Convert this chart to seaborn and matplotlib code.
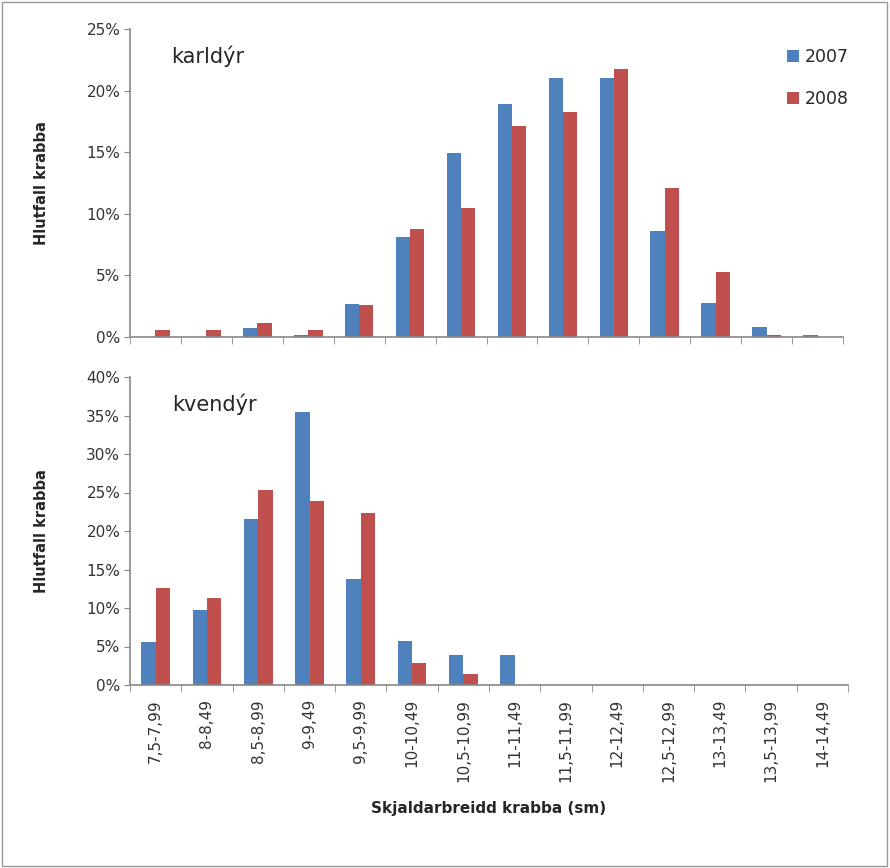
import matplotlib
matplotlib.use("Agg")
import matplotlib.pyplot as plt
import seaborn as sns
import pandas as pd
from matplotlib.ticker import FuncFormatter, FixedLocator, MultipleLocator
from matplotlib.patches import Rectangle

categories = ["7,5-7,99", "8-8,49", "8,5-8,99", "9-9,49", "9,5-9,99", "10-10,49",
              "10,5-10,99", "11-11,49", "11,5-11,99", "12-12,49", "12,5-12,99",
              "13-13,49", "13,5-13,99", "14-14,49"]
years = ["2007", "2008"]

karl_2007 = [0.0, 0.0, 0.7, 0.15, 2.7, 8.1, 14.9, 18.9, 21.0, 21.0, 8.6, 2.75, 0.8, 0.15]
karl_2008 = [0.6, 0.6, 1.1, 0.6, 2.6, 8.8, 10.5, 17.1, 18.3, 21.75, 12.1, 5.3, 0.15, 0.0]

kven_2007 = [5.6, 9.7, 21.5, 35.4, 13.8, 5.7, 3.9, 3.9, 0, 0, 0, 0, 0, 0]
kven_2008 = [12.6, 11.3, 25.3, 23.9, 22.4, 2.8, 1.4, 0, 0, 0, 0, 0, 0, 0]

palette = {"2007": "#4F81BD", "2008": "#C0504D"}


def long_df(v07, v08):
    rows = []
    for c, a, b in zip(categories, v07, v08):
        rows.append({"flokkur": c, "ar": "2007", "hlutfall": a})
        rows.append({"flokkur": c, "ar": "2008", "hlutfall": b})
    return pd.DataFrame(rows)


sns.set_style("white")
plt.rcParams["font.family"] = ["DejaVu Sans"]

fig = plt.figure(figsize=(8.9, 8.68), dpi=100)
ax1 = fig.add_axes([130 / 890, 1 - 337 / 868, 713 / 890, 308 / 868])
ax2 = fig.add_axes([130 / 890, 1 - 685 / 868, 718 / 890, 308 / 868])

sns.barplot(data=long_df(karl_2007, karl_2008), x="flokkur", y="hlutfall", hue="ar",
            palette=palette, width=0.56, ax=ax1, saturation=1, order=categories,
            linewidth=0)
sns.barplot(data=long_df(kven_2007, kven_2008), x="flokkur", y="hlutfall", hue="ar",
            palette=palette, width=0.56, ax=ax2, saturation=1, order=categories,
            linewidth=0)

pct = FuncFormatter(lambda v, p: f"{v:.0f}%")
for ax, top, step in [(ax1, 25, 5), (ax2, 40, 5)]:
    ax.set_xlim(-0.5, len(categories) - 0.5)
    ax.set_ylim(0, top)
    ax.yaxis.set_major_locator(MultipleLocator(step))
    ax.yaxis.set_major_formatter(pct)
    ax.tick_params(axis="y", labelsize=11, length=4, direction="out", color="#888888",
                   left=True, pad=3, labelcolor="#333333")
    ax.tick_params(axis="x", which="major", length=0)
    ax.xaxis.set_minor_locator(FixedLocator([i - 0.5 for i in range(len(categories) + 1)]))
    ax.tick_params(axis="x", which="minor", length=5, direction="out", color="#888888",
                   bottom=True)
    for s in ["top", "right"]:
        ax.spines[s].set_visible(False)
    for s in ["left", "bottom"]:
        ax.spines[s].set_color("#888888")
        ax.spines[s].set_linewidth(1.2)
    ax.set_ylabel("Hlutfall krabba", fontsize=10.5, fontweight="bold", labelpad=27)

ax1.set_xlabel("")
ax1.set_xticklabels([])
ax1.legend(loc="upper right", bbox_to_anchor=(1.03, 0.99), frameon=False, fontsize=12.5,
           handlelength=0.7, handleheight=0.7, labelspacing=1.4, handletextpad=0.35)
ax2.legend_.remove()

ax2.set_xticks(range(len(categories)))
ax2.set_xticklabels(categories, rotation=90, fontsize=11, color="#333333")
ax2.tick_params(axis="x", which="major", pad=10)
ax2.set_xlabel("Skjaldarbreidd krabba (sm)", fontsize=11, fontweight="bold", labelpad=14)

ax1.text(0.058, 0.91, "karldýr", transform=ax1.transAxes, fontsize=15, va="center")
ax2.text(0.058, 0.91, "kvendýr", transform=ax2.transAxes, fontsize=15, va="center")

fig.patches.append(Rectangle((2 / 890, 2 / 868), 885 / 890, 864 / 868, transform=fig.transFigure,
                             fill=False, edgecolor="#999999", linewidth=1))

fig.savefig("out.png", dpi=100)
